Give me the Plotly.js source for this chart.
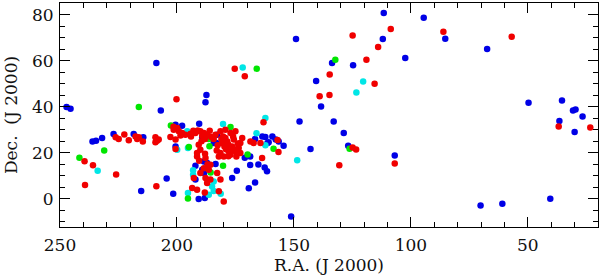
<!DOCTYPE html>
<html>
<head>
<meta charset="utf-8">
<script src="https://cdn.plot.ly/plotly-3.0.1.min.js"></script>
<style>html,body{margin:0;padding:0;background:#fff;}#chart{width:600px;height:275px;}</style>
</head>
<body>
<div id="chart"></div>
<script>
// Blue sample
const blueRA = [247.2,245.5,208.8,206.9,187.4,187.8,227.1,236.1,234.6,218.5,214.4,232.0,215.3,204.4,201.6,190.5,190.7,188.1,192.1,188.4,183.5,183.1,176.4,174.4,171.0,168.7,169.3,168.7,166.6,166.6,165.2,163.5,162.2,162.5,161.5,161.3,159.2,157.8,154.4,151.2,149.1,147.6,200.6,197.8,189.2,182.8,184.3,200.6,188.5,187.1,189.2,192.1,156.5,160.8,142.9,140.5,138.4,133.7,133.0,128.7,126.8,124.7,112.0,111.6,106.9,102.4,94.5,85.3,70.2,67.4,60.9,49.7,40.4,36.5,35.4,30.7,29.6,30.0,26.6];
const blueDec = [39.9,39.1,59.0,38.4,45.1,41.9,28.1,24.9,25.2,28.1,26.7,26.4,3.3,8.8,2.2,32.6,-0.1,0.3,8.3,11.2,15.1,24.2,9.0,12.2,17.8,18.4,4.5,14.7,7.1,26.0,14.9,27.1,26.8,13.6,11.9,24.2,27.1,25.7,23.0,-7.7,69.4,33.6,32.2,31.7,26.7,27.8,24.2,22.7,16.2,15.5,12.6,14.3,24.9,24.5,21.6,51.2,40.1,59.0,33.6,28.6,23.0,58.0,69.4,80.7,18.8,61.2,78.7,69.6,-2.9,65.1,-2.2,41.7,0.0,33.8,42.7,38.4,38.8,29.0,35.8];

// Cyan sample
const cyanRA = [233.9,171.9,162.2,180.3,166.0,199.9,195.3,195.6,148.6,193.1,193.1,184.3,185.0,184.3,186.4,195.3,181.3,162.2,120.4,123.3];
const cyanDec = [12.2,57.1,35.1,32.5,28.5,21.3,22.0,29.3,16.7,12.4,10.4,7.5,5.3,3.4,1.7,2.5,2.2,23.2,51.0,46.2];

// Green sample
const greenRA = [241.7,231.1,216.3,165.9,202.6,177.1,186.4,186.1,194.9,180.3,185.6,169.8,158.7,195.3,132.3,126.2];
const greenDec = [17.8,21.0,39.9,56.5,31.8,31.2,26.0,22.8,22.5,14.3,11.4,19.2,21.7,0.1,60.4,21.7];

// Red sample
const redRA = [239.5,239.3,235.9,226.0,226.2,224.9,222.5,220.6,217.7,217.0,216.3,214.6,209.2,208.5,207.8,209.2,208.8,200.2,199.9,201.4,199.2,200.6,202.8,200.6,197.8,196.4,194.2,192.1,191.1,190.0,189.2,188.5,187.1,185.4,183.5,190.7,190.0,191.4,191.4,187.8,186.9,188.5,186.4,185.7,190.0,192.8,193.5,191.4,187.8,187.1,185.7,182.8,181.4,182.1,180.0,188.1,181.4,180.3,179.3,178.5,177.1,175.7,175.0,176.4,177.9,179.7,181.4,180.0,175.0,173.6,172.9,172.1,174.6,177.1,182.6,182.1,172.9,179.3,184.3,180.7,183.0,178.0,176.0,174.0,179.0,194.0,198.5,186.0,188.0,193.0,174.5,176.5,178.0,181.0,201.5,189.5,188.0,190.5,175.3,171.0,168.6,167.2,164.3,163.6,163.0,157.0,156.6,139.0,134.8,134.7,130.6,124.9,124.9,123.4,119.0,115.5,114.0,108.6,106.9,86.1,56.9,36.8,23.3];
const redDec = [16.3,6.0,14.6,10.5,26.7,26.0,27.9,25.4,27.1,26.0,26.7,24.9,26.7,25.2,25.7,24.5,5.4,43.3,30.7,30.0,29.3,25.7,26.8,21.6,28.6,27.8,28.3,28.6,29.7,29.3,27.4,28.6,27.8,26.8,27.8,23.5,21.3,19.9,18.4,17.7,15.0,13.3,12.6,14.8,11.2,9.0,4.7,3.9,9.0,6.8,8.3,11.2,8.3,3.2,-1.2,2.7,29.3,27.1,30.0,24.9,28.6,25.7,29.3,22.7,20.6,22.7,19.9,18.4,20.6,22.0,24.2,26.4,18.4,19.1,23.2,18.4,19.9,26.4,26.0,24.2,21.0,23.5,27.0,24.0,21.5,27.0,27.5,29.5,26.0,29.5,21.5,21.0,18.5,26.0,31.3,25.0,19.5,16.5,56.5,53.2,24.9,24.2,24.2,17.7,33.2,25.5,20.3,44.5,45.1,54.0,14.5,71.0,22.3,21.4,60.4,50.0,66.0,73.8,15.3,72.6,70.4,31.4,31.0];

const FONT = 'DejaVu Serif, Liberation Serif, serif';
function tr(x, y, c) {
  return {x: x, y: y, type: 'scatter', mode: 'markers', hoverinfo: 'skip',
    marker: {color: c, size: 6.5, line: {width: 0}}};
}
const data = [tr(blueRA, blueDec, '#0000e6'), tr(cyanRA, cyanDec, '#00e6e6'),
              tr(greenRA, greenDec, '#00e600'), tr(redRA, redDec, '#f00000')];

const axisCommon = {
  showgrid: false, zeroline: false, showline: true, linecolor: '#000', linewidth: 1,
  mirror: 'allticks', ticks: 'inside', ticklen: 10, tickcolor: '#000', tickwidth: 1,
  tickfont: {family: FONT, size: 17, color: '#111'}
};
const layout = {
  width: 600, height: 275, showlegend: false,
  paper_bgcolor: '#fff', plot_bgcolor: '#fff',
  margin: {l: 60, r: 2, t: 3, b: 48},
  xaxis: Object.assign({}, axisCommon, {
    range: [250, 20], tickmode: 'linear', tick0: 0, dtick: 50, ticklabelstandoff: 3,
    minor: {dtick: 10, tick0: 0, ticks: 'inside', ticklen: 5, tickcolor: '#000', showgrid: false},
    title: {text: 'R.A. (J 2000)', font: {family: FONT, size: 17, color: '#111'}, standoff: 2}
  }),
  yaxis: Object.assign({}, axisCommon, {
    range: [-12.3, 85.1], tickmode: 'linear', tick0: 0, dtick: 20, ticklabelstandoff: 2,
    minor: {dtick: 5, tick0: 0, ticks: 'inside', ticklen: 5, tickcolor: '#000', showgrid: false},
    title: {text: 'Dec.  (J 2000)', font: {family: FONT, size: 17, color: '#111'}, standoff: 10}
  })
};
Plotly.newPlot('chart', data, layout, {displayModeBar: false, staticPlot: true});
</script>
</body>
</html>
